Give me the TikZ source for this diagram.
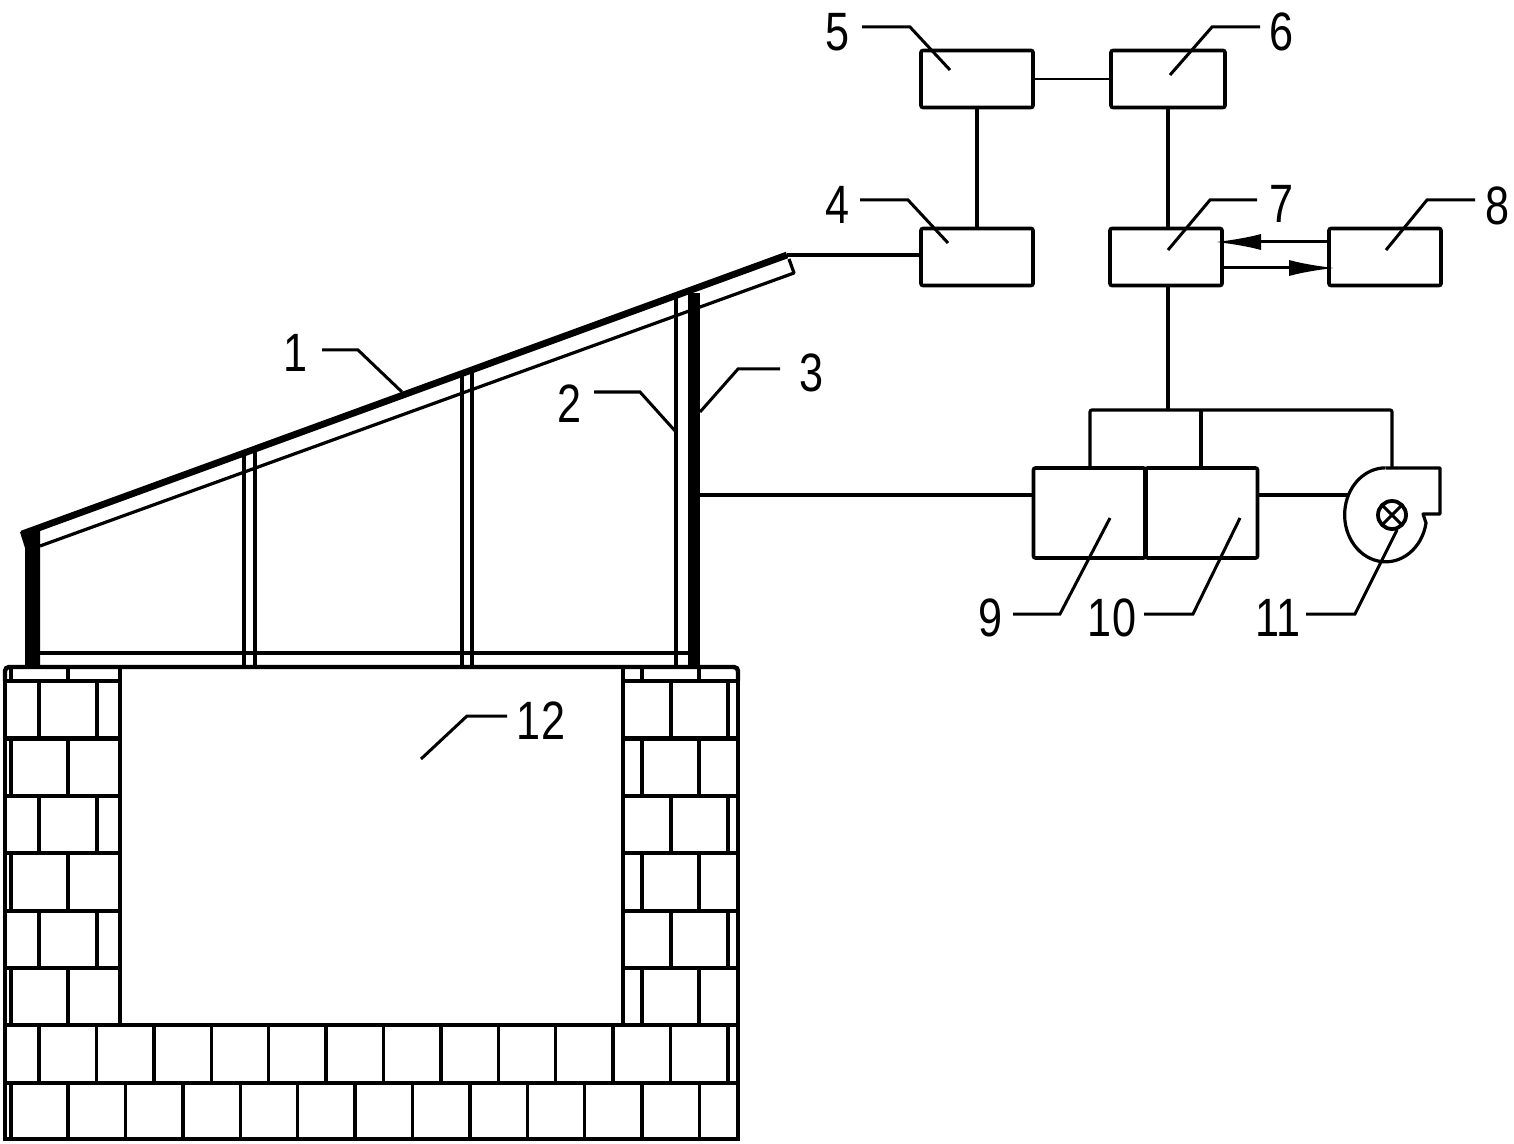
\documentclass[tikz,border=0pt]{standalone}
\usepackage{fontspec}
\newfontfamily\numfont[FakeStretch=0.8]{Liberation Sans}
\usetikzlibrary{arrows.meta,positioning}

\begin{document}
\begin{tikzpicture}[
            x=0.5pt, y=-0.5pt,
            unit/.style={draw, line width=1.8pt, rounded corners=1pt, outer sep=0pt, minimum width=56pt, minimum height=28.5pt},
            num/.style={font=\numfont\fontsize{27}{27}\selectfont, inner sep=0pt},
            wire/.style={line width=1.6pt},
            leader/.style={line width=1.5pt},
            brick/.style={line width=1.7pt},
            wall/.style={line width=2.2pt},
            to/.style={-{Latex[length=23pt,width=8pt]}, line width=1.5pt}
  ]
  \useasboundingbox (0,0) rectangle (1514,1144);

  \node[unit] (five) at (977,79) {};
  \node[unit, minimum width=57pt] (six) [right=39pt of five] {};
  \node[unit] (four) [below=60.5pt of five] {};
  \node[unit] (seven) [below=60.5pt of six, xshift=-1pt] {};
  \node[unit] (eight) [right=53.5pt of seven] {};
  \node[unit, minimum height=45pt] (nine) at (1089.5,513) {};
  \node[unit, minimum height=45pt] (ten) [right=0pt of nine] {};

  \coordinate (panelend) at (787,255);
  \coordinate (duct) at (700,495);
  \coordinate (busmid) at (1168,410);
  \coordinate (busleft) at (1090,410);
  \coordinate (busten) at (1201,410);
  \coordinate (busfan) at (1392,410);
  \coordinate (fantop) at (1392,468);
  \coordinate (fanleft) at (1349,495);
  \coordinate (tipseven) at (1215,242);
  \coordinate (tipeight) at (1335,268);

  \draw[line width=1.1pt] (five) -- (six);
  \draw[line width=1.8pt] (five) -- (four);
  \draw[wire] (busmid |- six.south) -- (busmid |- seven.north);
  \draw[wire] (panelend) -- (four.west |- panelend);
  \draw[wire] (seven.south -| busmid) -- (busmid);
  \draw[wire, rounded corners=1pt] (nine.north -| busleft) -- (busleft) -- (busfan) -- (fantop);
  \draw[wire] (busten) -- (ten.north -| busten);
  \draw[wire] (duct) -- (nine.west |- duct);
  \draw[wire] (ten.east |- fanleft) -- (fanleft);
  \draw[to] (eight.west |- tipseven) -- (tipseven);
  \draw[to] (seven.east |- tipeight) -- (tipeight);
  \draw[line width=2.6pt] (nine.north east) -- (nine.south east);

  \draw[wire, line join=round] (1386,468) -- (1440,468) -- (1440,514) -- (1423,514) -- (1426,523)
        arc[start angle=-10, end angle=-270, x radius=20.5pt, y radius=23.5pt];
  \node[draw, circle, line width=1.9pt, minimum size=14pt, inner sep=0pt, outer sep=0pt] (motor) at (1392,515) {};
  \draw[line width=1.5pt] (motor.45) -- (motor.225);
  \draw[line width=1.5pt] (motor.135) -- (motor.315);

  % roof and posts
  \draw[line width=3.4pt] (22,534) -- (panelend);
  \draw[wire, line join=round] (40,546) -- (794,273) -- (789,259);
  \fill (20,532) -- (40,530) -- (40,665) -- (25,665) -- (25,548) -- cycle;
  \fill (688,293) rectangle (700,665);
  \foreach \px/\py in {244/453, 255/449, 462/374, 472/370, 676/295}
    \draw[wire] (\px,\py) -- (\px,667);
  \draw[wire] (40,653) -- (688,653);
  \draw[line width=2.2pt, rounded corners=2pt] (5,681) -- (5,667) -- (738,667) -- (738,681);

  % wall
  \draw[brick] (5,681) -- (5,1139) -- (738,1139) -- (738,681);
  \draw[wall] (120,667) -- (120,1025) -- (623,1025) -- (623,667);
  \foreach \hy in {681, 738.5, 796, 853, 911, 968}{
    \draw[wall] (5,\hy) -- (120,\hy);
    \draw[wall] (623,\hy) -- (738,\hy);
  }
  \draw[wall] (5,1025) -- (120,1025);
  \draw[wall] (623,1025) -- (738,1025);
  \draw[wall] (5,1083) -- (738,1083);
  \foreach \ya/\yb in {681/738.5, 796/853, 911/968}
    \foreach \bx in {39, 97, 671, 728}
      \draw[brick] (\bx,\ya) -- (\bx,\yb);
  \foreach \ya/\yb in {667/681, 738.5/796, 853/911, 968/1025}
    \foreach \bx in {11, 68, 642, 699}
      \draw[brick] (\bx,\ya) -- (\bx,\yb);
  \foreach \n in {0,...,12}
    \draw[brick] ({39+57.4*\n},1025) -- ({39+57.4*\n},1083);
  \draw[brick] (11,1083) -- (11,1139);
  \foreach \n in {0,...,11}
    \draw[brick] ({68+57.4*\n},1083) -- ({68+57.4*\n},1139);

  % labels
  \node[num] (lone) at (296,353) {1};
  \node[num] (ltwo) at (570,404) {2};
  \node[num] (lthree) at (812,373) {3};
  \node[num] (lfour) at (838,205) {4};
  \node[num] (lfive) at (838,32) {5};
  \node[num] (lsix) at (1281,32) {6};
  \node[num] (lseven) at (1281,204) {7};
  \node[num] (leight) at (1497,206) {8};
  \node[num] (lnine) at (990,618) {9};
  \node[num] (lten) at (1112,618) {10};
  \node[num] (leleven) at (1278,618) {11};
  \node[num] (ltwelve) at (541,721) {12};

  \draw[leader] (322,350) -- (358,350) -- (402,392);
  \draw[leader] (594,392) -- (640,392) -- (676,432);
  \draw[leader] (780,369) -- (738,369) -- (700,412);
  \draw[leader] (860,200) -- (908,200) -- (948,243);
  \draw[leader] (862,27) -- (910,27) -- (950,70);
  \draw[leader] (1260,27) -- (1212,27) -- (1170,75);
  \draw[leader] (1257,200) -- (1210,200) -- (1168,250);
  \draw[leader] (1475,200) -- (1427,200) -- (1386,250);
  \draw[leader] (1013,614) -- (1060,614) -- (1110,518);
  \draw[leader] (1144,614) -- (1193,614) -- (1240,518);
  \draw[leader] (1306,614) -- (1355,614) -- (1397,530);
  \draw[leader] (507,716) -- (467,716) -- (421,759);
\end{tikzpicture}
\end{document}
